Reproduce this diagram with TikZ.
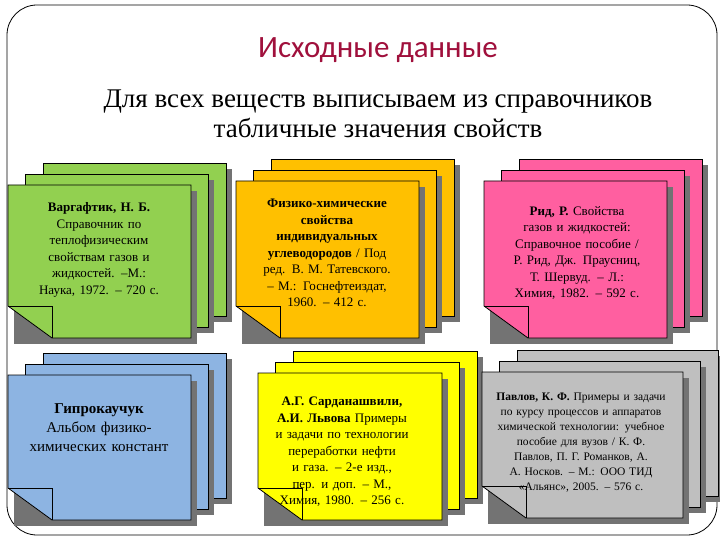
\documentclass[tikz,border=0pt]{standalone}
\usepackage{fontspec}
\setmainfont{Liberation Serif}
\newfontfamily\titlefont{Carlito}
\definecolor{cgreen}{HTML}{92D050}
\definecolor{corange}{HTML}{FFC000}
\definecolor{cpink}{HTML}{FF5FA0}
\definecolor{cblue}{HTML}{8DB4E2}
\definecolor{cyellow}{HTML}{FFFF00}
\definecolor{cgray}{HTML}{BFBFBF}
\definecolor{ctitle}{HTML}{A0103C}
\newcommand\sheet[5]{% x y w h color
  \fill[black!55] (#1+6,#2+6) rectangle (#1+#3+6,#2+#4+6);
  \draw[fill=#5,line width=0.8pt] (#1,#2) rectangle (#1+#3,#2+#4);}
\newcommand\frontsheet[5]{%
  \fill[black!55] (#1+6,#2+6) rectangle (#1+#3+6,#2+#4+6);
  \draw[fill=#5,line width=0.8pt] (#1,#2) -- (#1+#3,#2) -- (#1+#3,#2+#4) -- (#1+44,#2+#4) -- (#1,#2+#4-32) -- cycle;
  \draw[line width=0.8pt] (#1,#2+#4-32) -- (#1+44,#2+#4-32) -- (#1+44,#2+#4);}
\newcommand\stack[5]{% x y w h color (front sheet)
  \sheet{#1+35}{#2-22}{#3}{#4}{#5}
  \sheet{#1+17}{#2-11}{#3}{#4}{#5}
  \frontsheet{#1}{#2}{#3}{#4}{#5}}
\begin{document}
\begin{tikzpicture}[x=1pt,y=-1pt,
  cardtext/.style={text width=150pt,align=center,font=\fontsize{13}{16.5}\selectfont,inner sep=0pt},
  smalltext/.style={text width=170pt,align=center,font=\fontsize{11.5}{15}\selectfont,inner sep=0pt}]
\useasboundingbox (0,0) rectangle (720,540);
\fill[white] (0,0) rectangle (720,540);
\draw[line width=0.8pt,rounded corners=30pt] (7,5) rectangle (717,535);
\node[font=\titlefont\fontsize{31}{32}\selectfont,text=ctitle] (title) at (378,50) {Исходные данные};
\node[font=\fontsize{27}{30}\selectfont,align=center] (sub) at (378,114) {Для всех веществ выписываем из справочников\\табличные значения свойств};
\stack{8}{185}{183}{153}{cgreen}
\stack{236}{181}{183}{157}{corange}
\stack{484}{181}{183}{157}{cpink}
\stack{8}{375}{183}{145}{cblue}
\stack{258}{373}{184}{147}{cyellow}
\stack{482}{372}{201}{146}{cgray}
\node[cardtext,text width=140pt] (t1) at (99,250) {\textbf{Варгафтик, Н. Б.}\\Справочник по теплофизическим свойствам газов и жидкостей. –М.: Наука, 1972. – 720 с.};
\node[cardtext] (t2) at (327,253) {\textbf{Физико-химические свойства индивидуальных углеводородов} / Под ред. В. М. Татевского. – М.: Госнефтеиздат, 1960. – 412 с.};
\node[cardtext,text width=138pt] (t3) at (577,253) {\textbf{Рид, Р.} Свойства газов и жидкостей: Справочное пособие / Р. Рид, Дж. Праусниц, Т. Шервуд. – Л.: Химия, 1982. – 592 с.};
\node[text width=140pt,align=center,font=\fontsize{15}{19}\selectfont,inner sep=0pt] (t4) at (99,428) {\textbf{Гипрокаучук}\\Альбом физико-химических констант};
\node[cardtext,text width=142pt] (t5) at (342,452) {\textbf{А.Г. Сарданашвили, А.И. Львова} Примеры и задачи по технологии переработки нефти и газа. – 2-е изд., пер. и доп. – М., Химия, 1980. – 256 с.};
\node[smalltext] (t6) at (581,443) {\textbf{Павлов, К. Ф.} Примеры и задачи по курсу процессов и аппаратов химической технологии: учебное пособие для вузов / К. Ф. Павлов, П. Г. Романков, А. А. Носков. – М.: ООО ТИД «Альянс», 2005. – 576 с.};
\end{tikzpicture}
\end{document}
